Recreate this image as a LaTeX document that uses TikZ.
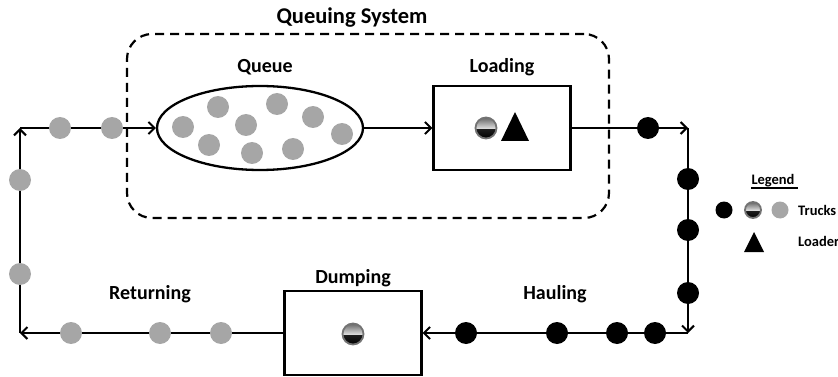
\documentclass[tikz,border=0pt]{standalone}
\usepackage{fontspec}
\setmainfont{Carlito}
\usetikzlibrary{arrows.meta,shapes.geometric}
\definecolor{truckgray}{RGB}{166,166,166}
\definecolor{ringgray}{RGB}{115,115,115}
\begin{document}
\begin{tikzpicture}[x=1pt,y=-1pt,
  flow/.style={line width=2.3pt,
    -{Straight Barb[length=6pt,width=12pt,line width=2pt]}},
  lbl/.style={font=\bfseries\fontsize{20}{23}\selectfont, inner sep=0pt},
  smalllbl/.style={font=\bfseries\fontsize{14.5}{17}\selectfont, inner sep=0pt},
  stagebox/.style={draw, line width=2.3pt, minimum width=137pt,
    minimum height=84pt, inner sep=0pt},
  gtruck/.style={circle, fill=truckgray, minimum size=22pt, inner sep=0pt},
  btruck/.style={circle, fill=black, minimum size=22pt, inner sep=0pt},
  htruck/.style={circle, draw=ringgray, line width=1.8pt,
    minimum size=#1, inner sep=0pt,
    path picture={
      \shade[top color=black!75, bottom color=black]
        (path picture bounding box.west)
        rectangle (path picture bounding box.south east);
      \shade[top color=gray!80!black, bottom color=gray!25]
        (path picture bounding box.north west)
        rectangle ([yshift=-0.5pt]path picture bounding box.east);
    }},
  htruck/.default=21pt
]
\useasboundingbox (0,0) rectangle (838,377);

% queuing system boundary
\node[draw, dashed, line width=2.2pt, dash pattern=on 9pt off 6pt,
      rounded corners=25pt, minimum width=482pt, minimum height=184pt]
  (qsys) at (368,126) {};
\node[lbl, font=\bfseries\fontsize{22.5}{26}\selectfont] (qsystitle) at (352,18) {Queuing System};

% stages
\node[ellipse, draw, line width=2.3pt, minimum width=206pt, minimum height=84pt,
      inner sep=0pt] (queue) at (260,128) {};
\node[stagebox] (loading) at (502,128) {};
\node[stagebox] (dumping) at (353,333) {};

\node[lbl] (queuelbl) at (265,67) {Queue};
\node[lbl] (loadinglbl) at (502,67) {Loading};
\node[lbl, anchor=base] (dumpinglbl) at (353,283) {Dumping};
\node[lbl, anchor=base] (returninglbl) at (150,299) {Returning};
\node[lbl, anchor=base] (haulinglbl) at (555,299) {Hauling};

% corners of the cycle
\coordinate (ctl) at (20,128);
\coordinate (ctr) at (688,128);
\coordinate (cbr) at (688,333);
\coordinate (cbl) at (20,333);

% haul cycle
\draw[flow] (ctl) -- (queue.west);
\draw[flow] (queue.east) -- (loading.west);
\draw[flow] (loading.east) -- (ctr);
\draw[flow] (ctr) -- (cbr);
\draw[flow] (cbr) -- (dumping.east);
\draw[flow] (dumping.west) -- (cbl);
\draw[flow] (cbl) -- (ctl);

% trucks in the queue
\foreach \n/\x/\y in {q1/183/127, q2/218/107, q3/209/145, q4/246/125,
                      q5/277/104, q6/252/153, q7/313/117, q8/293/149,
                      q9/342/134}
  \node[gtruck] (\n) at (\x,\y) {};

% returning (empty) trucks
\foreach \n/\x/\y in {r1/60/128, r2/112/128, r3/20/180, r4/20/274,
                      r5/71/333, r6/160/333, r7/221/333}
  \node[gtruck] (\n) at (\x,\y) {};

% hauling (loaded) trucks
\foreach \n/\x/\y in {h1/648/128, h2/688/179, h3/688/230, h4/688/293,
                      h5/466/333, h6/557/333, h7/617/333, h8/655/333}
  \node[btruck] (\n) at (\x,\y) {};

% trucks being served and the loader
\node[htruck] (loadtruck) at (486,128) {};
\fill (515,112) -- (529,141) -- (501,141) -- cycle;
\node[htruck] (dumptruck) at (353,334) {};

% legend
\node[smalllbl, anchor=base] (legendlbl) at (773,185) {Legend};
\draw[line width=1.1pt] (legendlbl.base west) ++(0,3) -- ++(47,0);
\node[btruck, minimum size=17pt] (lgb) at (724,210) {};
\node[htruck=16pt] (lgh) at (753,210) {};
\node[gtruck, minimum size=17pt] (lgg) at (780,210) {};
\node[smalllbl, anchor=base west] (truckslbl) at (798,215) {Trucks};
\fill (754,232) -- (764,252) -- (744,252) -- cycle;
\node[smalllbl, anchor=base west] (loaderlbl) at (798,246) {Loader};
\end{tikzpicture}
\end{document}
